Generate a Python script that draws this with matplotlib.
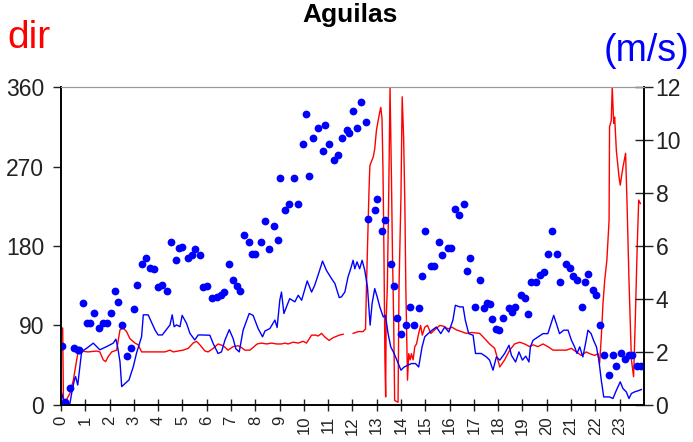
import numpy as np
import matplotlib
matplotlib.use("Agg")
import matplotlib.pyplot as plt

plt.rcParams['font.family'] = ['Liberation Sans', 'DejaVu Sans']

# wind direction (deg, left axis)
dir_hours = [0.05, 0.07, 0.10, 0.23, 0.37, 0.44, 0.51, 0.58, 0.69, 0.78, 1.12, 1.47, 1.60, 1.74, 1.84, 1.95,
             2.09, 2.29, 2.43, 2.56, 2.70, 2.84, 3.05, 3.18, 3.32, 3.73, 4.28, 4.49, 4.62, 5.03, 5.24, 5.44,
             5.58, 5.72, 5.93, 6.06, 6.27, 6.47, 6.68, 6.88, 7.09, 7.30, 7.43, 7.57, 7.78, 7.91, 8.08, 8.26,
             8.47, 8.67, 8.88, 9.08, 9.22, 9.35, 9.56, 9.77, 9.97, 10.11, 10.32, 10.49, 10.59, 10.73, 10.86,
             11.04, 11.20, 11.46, 11.62, 11.80,
             12.03, 12.24, 12.44, 12.54, 12.58, 12.65, 12.68, 12.72, 12.86, 12.92, 12.99, 13.06, 13.13, 13.17,
             13.22, 13.26, 13.30, 13.34, 13.37, 13.39, 13.44, 13.50, 13.55, 13.61, 13.65, 13.70, 13.74, 13.88,
             13.92, 14.00, 14.05, 14.11, 14.16, 14.20, 14.27, 14.32, 14.38, 14.43, 14.50, 14.57, 14.64, 14.73,
             14.81, 14.88, 14.98, 15.09, 15.23, 15.39, 15.60, 15.77, 15.94, 16.10, 16.28, 16.49, 16.69, 16.90,
             17.24, 17.45, 17.65, 17.86, 18.07, 18.27, 18.48, 18.68, 18.89, 19.09, 19.30, 19.44, 19.64, 19.85,
             20.05, 20.26, 20.53, 20.81, 21.02, 21.22, 21.43, 21.63, 21.77, 21.98, 22.11, 22.18, 22.25, 22.32,
             22.39, 22.48, 22.57, 22.59, 22.66, 22.70, 22.76, 22.80, 22.87, 22.98, 23.03, 23.14, 23.25, 23.31,
             23.39, 23.49, 23.58, 23.65, 23.72, 23.79, 23.86]
dir_deg = [87, 87, 6, 6, 13, 21, 28, 40, 58, 61, 60, 61, 60, 51, 49, 55,
           60, 62, 85, 87, 83, 75, 70, 68, 60, 60, 60, 62, 60, 62, 64, 70,
           72, 68, 61, 60, 64, 69, 67, 62, 66, 67, 65, 62, 62, 65, 69, 70,
           69, 70, 69, 69, 70, 69, 71, 70, 72, 70, 79, 79, 78, 81, 77,
           73, 76, 79, 80, np.nan,
           81, 83, 83, 86, 134, 209, 239, 271, 281, 290, 311, 322, 332, 337,
           324, 266, 171, 51, 9, 96, 134, 247, 360, 254, 171, 96, 5, 3,
           134, 236, 349, 303, 228, 134, 28, 58, 51, 58, 51, 66, 69, 81,
           90, 79, 88, 90, 81, 85, 90, 89, 86, 88, 85, 83, 81, 82,
           81, 75, 69, 64, 43, 51, 62, 69, 71, 69, 66, 68, 66, 69,
           66, 62, 62, 62, 64, 60, 56, 60, 58, 56, 58, 47, 77, 115,
           141, 164, 209, 315, 322, 360, 319, 326, 288, 258, 249, 269, 285, 228,
           141, 51, 32, 96, 171, 232, 228]

# mean wind speed (m/s, right axis)
speed_hours = [0.03, 0.14, 0.37, 0.44, 0.55, 0.60, 0.69, 0.78, 0.85, 1.06, 1.33, 1.60, 1.88, 2.15, 2.26,
               2.33, 2.43, 2.50, 2.80, 2.98, 3.11, 3.32, 3.39, 3.59, 3.87, 4.00, 4.17, 4.49, 4.58, 4.66,
               4.76, 4.90, 4.99, 5.17, 5.31, 5.51, 5.65, 5.79, 6.13, 6.27, 6.47, 6.61, 6.75, 6.93, 7.09,
               7.20, 7.34, 7.50, 7.75, 7.91, 8.12, 8.30, 8.40, 8.60, 8.81, 8.90, 9.01, 9.08, 9.18, 9.31,
               9.42, 9.63, 9.77, 9.91, 10.14, 10.32, 10.45, 10.63, 10.77, 10.93, 11.14, 11.28, 11.46, 11.55,
               11.69, 11.82, 11.93, 12.03, 12.10, 12.19, 12.30, 12.40, 12.51, 12.62, 12.73, 12.81, 12.92,
               13.02, 13.13, 13.27, 13.36, 13.47, 13.58, 13.72, 13.86, 14.00, 14.13, 14.29, 14.43, 14.60,
               14.73, 14.87, 14.98, 15.12, 15.28, 15.46, 15.64, 15.80, 15.97, 16.14, 16.24, 16.42, 16.56,
               16.65, 16.79, 16.97, 17.07, 17.31, 17.52, 17.65, 17.79, 17.93, 18.07, 18.27, 18.45, 18.55,
               18.72, 18.86, 19.00, 19.14, 19.27, 19.33, 19.44, 19.85, 20.05, 20.29, 20.40, 20.53, 20.70,
               20.88, 21.02, 21.15, 21.25, 21.36, 21.49, 21.60, 21.70, 21.83, 21.93, 22.05, 22.15, 22.25,
               22.35, 22.59, 22.73, 22.87, 23.03, 23.14, 23.28, 23.39, 23.49, 23.62, 23.76, 23.90]
speed_ms = [0.44, 0.06, 0.06, 0.44, 0.94, 1.07, 0.75, 1.45, 2.01, 2.14, 2.33, 2.08, 2.20, 2.33, 2.48,
            2.20, 1.63, 0.69, 0.94, 1.45, 1.95, 2.58, 3.40, 3.40, 2.83, 2.64, 2.64, 3.02, 3.40, 2.95,
            3.02, 2.95, 3.38, 3.08, 2.70, 2.45, 2.64, 2.64, 2.63, 2.31, 1.94, 2.00, 2.44, 2.84, 2.50,
            2.12, 2.00, 2.82, 3.45, 3.38, 2.88, 2.57, 2.79, 2.88, 3.20, 2.92, 3.95, 4.26, 3.45, 3.76,
            4.01, 3.89, 4.14, 3.95, 4.68, 4.26, 4.52, 5.02, 5.43, 5.08, 4.77, 4.58, 4.05, 4.08,
            4.26, 4.83, 5.14, 5.46, 5.14, 5.40, 5.14, 5.46, 5.08, 4.45, 3.01, 3.82, 4.39,
            4.08, 3.70, 3.32, 3.38, 2.69, 2.19, 1.94, 1.62, 1.31, 1.43, 1.50, 1.56, 1.56,
            1.43, 2.19, 2.57, 2.69, 2.82, 2.94, 2.69, 2.94, 2.75, 3.20, 3.76, 3.70, 3.70,
            3.20, 2.69, 2.63, 1.94, 1.94, 1.81, 1.69, 1.31, 1.81, 1.69, 1.94, 2.25, 1.87,
            1.62, 2.00, 1.69, 1.84, 1.62, 2.19, 2.44, 2.69, 2.69, 3.38, 3.07, 2.69, 2.82,
            2.82, 2.44, 2.19, 1.94, 2.19, 1.81, 2.31, 2.82, 2.69, 2.44, 2.19, 1.69, 0.93,
            0.30, 0.30, 0.24, 0.55, 0.87, 0.62, 0.49, 0.24, 0.43, 0.49, 0.53, 0.58]

# gusts (m/s, right axis)
gust_hours = [0.03, 0.16, 0.37, 0.55, 0.69, 0.74, 0.92, 1.06, 1.19, 1.37, 1.58, 1.74, 1.88, 2.05, 2.22,
              2.36, 2.50, 2.70, 2.88, 3.00, 3.14, 3.35, 3.49, 3.66, 3.84, 4.00, 4.14, 4.35, 4.53, 4.72,
              4.86, 4.97, 5.24, 5.38, 5.51, 5.72, 5.86, 6.00, 6.20, 6.41, 6.57, 6.71, 6.91, 7.07, 7.23,
              7.37, 7.54, 7.74, 7.85, 8.01, 8.23, 8.40, 8.55, 8.77, 8.92, 9.01, 9.22, 9.38, 9.59, 9.74,
              9.95, 10.08, 10.22, 10.38, 10.59, 10.77, 10.89, 11.04, 11.25, 11.39, 11.58, 11.78, 11.85,
              12.03, 12.17, 12.35, 12.54, 12.65, 12.92, 13.03, 13.20, 13.35, 13.57, 13.72, 13.84, 14.02,
              14.20, 14.36, 14.53, 14.73, 14.88, 15.01, 15.23, 15.36, 15.57, 15.69, 15.94, 16.08, 16.21,
              16.38, 16.58, 16.74, 16.86, 17.04, 17.24, 17.42, 17.54, 17.65, 17.75, 17.90, 18.04, 18.20,
              18.44, 18.59, 18.71, 18.93, 19.09, 19.23, 19.37, 19.58, 19.74, 19.88, 20.05, 20.23, 20.44,
              20.56, 20.81, 20.95, 21.08, 21.25, 21.45, 21.59, 21.70, 21.91, 22.05, 22.18, 22.35, 22.56,
              22.73, 22.84, 23.05, 23.21, 23.39, 23.53, 23.72, 23.90]
gust_ms = [2.24, 0.09, 0.64, 2.15, 2.07, 2.07, 3.84, 3.10, 3.10, 3.46, 2.90, 3.08, 3.10, 3.46, 4.30,
           3.90, 3.00, 1.86, 2.14, 3.62, 4.52, 5.31, 5.54, 5.16, 5.13, 4.46, 4.52, 4.30, 6.14, 5.46,
           5.91, 5.97, 5.54, 5.66, 5.89, 5.66, 4.46, 4.47, 4.05, 4.08, 4.14, 4.26, 5.31, 4.73, 4.48,
           4.30, 6.40, 6.14, 5.71, 5.71, 6.14, 6.94, 5.88, 6.74, 6.21, 8.57, 7.35, 7.57, 8.57, 7.57,
           9.84, 10.99, 8.64, 10.08, 10.47, 9.58, 10.58, 9.84, 9.26, 9.45, 10.08, 10.39, 10.26,
           11.08, 10.47, 11.43, 10.68, 7.00, 7.35, 7.76, 6.55, 6.97, 5.33, 4.48, 3.28, 2.67,
           3.03, 3.70, 3.03, 3.64, 4.86, 6.55, 5.26, 5.26, 6.14, 5.65, 5.94, 5.94, 7.41,
           7.16, 7.57, 5.06, 5.54, 3.70, 4.73, 3.64, 3.85, 3.82, 3.23, 2.88, 2.82, 3.29,
           3.64, 3.51, 3.70, 4.14, 4.05, 3.45, 4.64, 4.64, 4.89, 5.02, 5.71, 6.57, 5.71,
           4.64, 5.33, 5.17, 4.86, 4.73, 3.70, 4.64, 4.93, 4.33, 4.14, 3.03, 1.87, 1.14,
           1.87, 1.46, 1.94, 1.75, 1.87, 1.87, 1.46, 1.46]

hour_labels = [str(h) for h in range(24)]

fig = plt.figure(figsize=(6.93, 4.42), dpi=100)
ax = fig.add_axes([0.088, 0.084, 0.841, 0.719])
ax2 = ax.twinx()

ax.plot(dir_hours, dir_deg, color='#ff0000', lw=1.0)
ax2.plot(speed_hours, speed_ms, color='#0000ff', lw=1.0)
ax2.plot(gust_hours, gust_ms, 'o', color='#0000ff', ms=5.6, mec='none')

ax.set_xlim(0, 24)
ax.set_ylim(0, 360)
ax2.set_ylim(0, 12)
ax.set_yticks([0, 90, 180, 270, 360])
ax2.set_yticks(range(0, 13, 2))
ax.set_xticks(range(24))
ax.set_xticklabels(hour_labels, rotation=90, fontsize=12)

ax.tick_params(axis='y', direction='out', length=6, width=1, labelsize=16.5, pad=6, colors='#222222')
ax.tick_params(axis='x', direction='inout', length=8, width=1, pad=4, colors='#222222')
ax2.tick_params(axis='y', direction='inout', length=13, width=1, labelsize=16.5, pad=2, colors='#222222')

for a in (ax, ax2):
    for s in ('left', 'right', 'bottom'):
        a.spines[s].set_color('black')
        a.spines[s].set_linewidth(1.2)
    a.spines['top'].set_color('#999999')
    a.spines['top'].set_linewidth(0.8)

fig.text(0.505, 0.967, 'Aguilas', ha='center', va='center', fontsize=19, fontweight='bold')
fig.text(0.010, 0.915, 'dir', ha='left', va='center', color='#ff0000', fontsize=28)
fig.text(0.995, 0.885, '(m/s)', ha='right', va='center', color='#0000ff', fontsize=27)

fig.savefig('out.png', dpi=100)
